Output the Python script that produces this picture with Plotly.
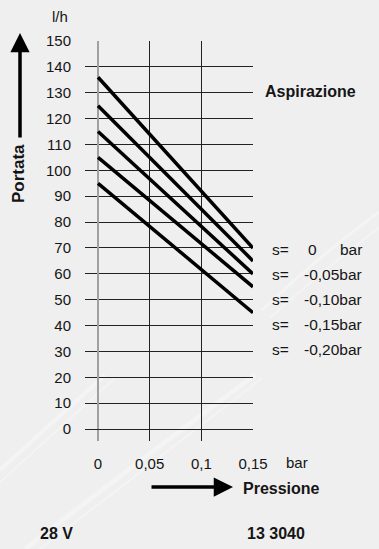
import plotly.graph_objects as go

# ---- data ----
pressure = [0, 0.15]
series_labels = ["0", "-0,05", "-0,10", "-0,15", "-0,20"]
flow_start = [136, 125, 115, 105, 95]
flow_end = [70, 65, 60, 55, 45]
y_ticks = list(range(0, 151, 10))
x_ticks = [0, 0.05, 0.1, 0.15]
x_tick_text = ["0", "0,05", "0,1", "0,15"]

W, H = 379, 549
L, R, T, B = 85, 253, 41, 441

def px(x):
    return (x - L) / (R - L)

def py(y):
    return (B - y) / (B - T)

FONT = "Liberation Sans, Arial, sans-serif"
TXT = "#151515"

fig = go.Figure()
for lab, s, e in zip(series_labels, flow_start, flow_end):
    fig.add_trace(go.Scatter(x=pressure, y=[s, e], mode="lines",
                             line=dict(color="#000000", width=3.5),
                             name=lab, showlegend=False, hoverinfo="skip"))

def text(t, x, y, xa="center", size=15.5, angle=0):
    return dict(text=t, x=px(x), y=py(y), xref="paper", yref="paper",
                xanchor=xa, yanchor="middle", showarrow=False, textangle=angle,
                font=dict(size=size, color=TXT, family=FONT))

ann = []
ann.append(text("l/h", 60, 17, size=15))
ann.append(text("<b>Aspirazione</b>", 263, 91, xa="left", size=16))
for i, lab in enumerate(series_labels):
    yy = 249 + 25 * i
    ann.append(text("s=", 270, yy, xa="left"))
    if lab == "0":
        ann.append(text("0", 312, yy))
        ann.append(text("bar", 364, yy, xa="right"))
    else:
        ann.append(text(lab + "bar", 364, yy, xa="right"))
ann.append(text("bar", 297, 462, size=15))
# arrows
ann.append(dict(text="", x=px(20), y=py(33), xref="paper", yref="paper",
                ax=0, ay=106, showarrow=True, arrowhead=2, arrowsize=1.1,
                arrowwidth=3.5, arrowcolor="#000000"))
ann.append(text("<b>Portata</b>", 18, 174, size=17, angle=-90))
ann.append(dict(text="", x=px(233), y=py(487), xref="paper", yref="paper",
                ax=-83, ay=0, showarrow=True, arrowhead=2, arrowsize=1.1,
                arrowwidth=3.5, arrowcolor="#000000"))
ann.append(text("<b>Pressione</b>", 241, 488, xa="left", size=16))
ann.append(text("<b>28 V</b>", 38, 533, xa="left", size=16))
ann.append(text("<b>13 3040</b>", 245, 533, xa="left", size=16))

# decorative faint light streaks in background
shapes = []
streaks = [
    ((0, 470), (50, 425), (105, 375), 4, 0.35),
    ((0, 482), (55, 432), (115, 378), 2, 0.3),
    ((25, 549), (140, 460), (255, 375), 5, 0.3),
    ((40, 549), (150, 465), (262, 378), 2, 0.3),
    ((262, 310), (320, 255), (379, 212), 3, 0.35),
    ((270, 318), (325, 268), (379, 228), 2, 0.3),
]
for p0, p1, p2, wdt, op in streaks:
    shapes.append(dict(type="path", xref="paper", yref="paper", layer="below",
                       path="M %f %f Q %f %f %f %f" % (px(p0[0]), py(p0[1]), px(p1[0]), py(p1[1]), px(p2[0]), py(p2[1])),
                       line=dict(color="rgba(255,255,255,%f)" % op, width=wdt)))

fig.update_layout(
    width=W, height=H,
    margin=dict(l=L, r=W - R, t=T, b=H - B, pad=0),
    paper_bgcolor="#efefef", plot_bgcolor="rgba(0,0,0,0)",
    annotations=ann, shapes=shapes,
    xaxis=dict(range=[-0.0126, 0.15], tickvals=x_ticks, ticktext=x_tick_text,
               showgrid=True, gridcolor="#222222", gridwidth=1,
               zeroline=True, zerolinecolor="#a0a0a0", zerolinewidth=1.5,
               showline=False, ticks="", ticklabelstandoff=12,
               tickfont=dict(size=15, color=TXT, family=FONT), fixedrange=True),
    yaxis=dict(range=[-4.6, 150], tickvals=y_ticks,
               showgrid=True, gridcolor="#222222", gridwidth=1,
               zeroline=True, zerolinecolor="#222222", zerolinewidth=1,
               showline=False, ticks="", ticklabelstandoff=13,
               tickfont=dict(size=15, color=TXT, family=FONT), fixedrange=True),
)
fig.write_html("out.html", config={"displayModeBar": False},
               post_script="document.body.style.margin='0';document.body.style.background='#efefef';")
